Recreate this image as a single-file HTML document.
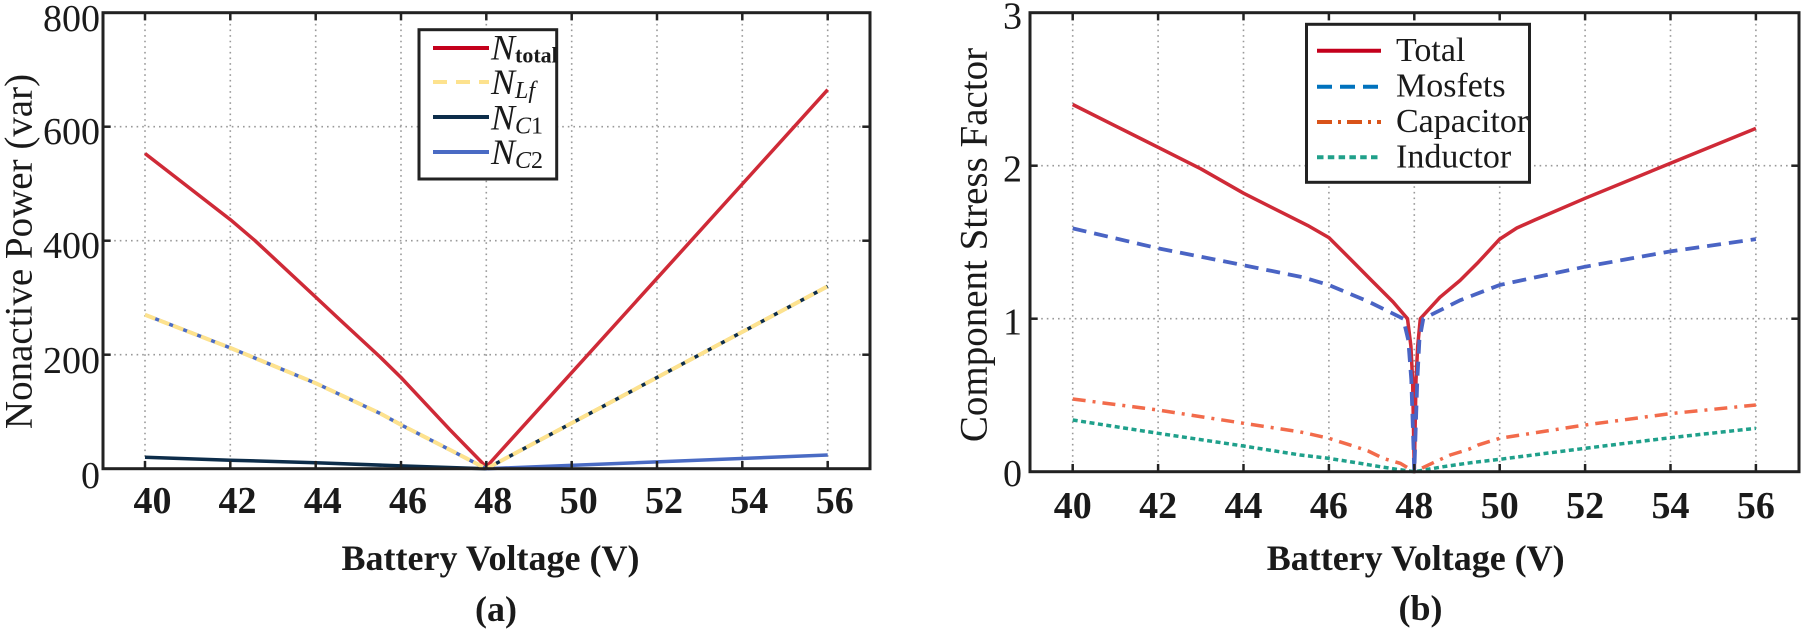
<!DOCTYPE html>
<html>
<head>
<meta charset="utf-8">
<style>
html,body{margin:0;padding:0;background:#fff;}
svg{display:block;}
text{font-family:"Liberation Serif","Times New Roman",serif;fill:#1a1a1a;}
</style>
</head>
<body>
<svg width="1803" height="633" viewBox="0 0 1803 633" xmlns="http://www.w3.org/2000/svg">
<rect x="0" y="0" width="1803" height="633" fill="#fff"/>

<!-- ================= LEFT CHART (a) ================= -->
<g stroke="#999" stroke-width="1.6" stroke-dasharray="1.6 4" fill="none">
  <line x1="145" y1="12.7" x2="145" y2="468.7"/>
  <line x1="230.3" y1="12.7" x2="230.3" y2="468.7"/>
  <line x1="315.7" y1="12.7" x2="315.7" y2="468.7"/>
  <line x1="401" y1="12.7" x2="401" y2="468.7"/>
  <line x1="486.3" y1="12.7" x2="486.3" y2="468.7"/>
  <line x1="571.7" y1="12.7" x2="571.7" y2="468.7"/>
  <line x1="657" y1="12.7" x2="657" y2="468.7"/>
  <line x1="742.3" y1="12.7" x2="742.3" y2="468.7"/>
  <line x1="827.7" y1="12.7" x2="827.7" y2="468.7"/>
  <line x1="103" y1="126.7" x2="870" y2="126.7"/>
  <line x1="103" y1="240.7" x2="870" y2="240.7"/>
  <line x1="103" y1="354.7" x2="870" y2="354.7"/>
</g>

<g fill="none" stroke-linejoin="round" stroke-linecap="butt">
  <!-- N_total -->
  <polyline stroke="#cf2a37" stroke-width="3.5" points="145,153.5 230.3,219.6 255.1,240.7 315.7,297.1 340,319.9 380.1,357 401,377.5 450.1,429.9 486.3,467 827.7,89.7"/>
  <!-- N_C1 -->
  <polyline stroke="#0d2d4a" stroke-width="3.5" points="145,457.3 230.3,460.2 315.7,462.7 401,465.9 486.3,468.7 827.7,286.3"/>
  <!-- N_C2 -->
  <polyline stroke="#4a6bc4" stroke-width="3.5" points="145,314.8 230.3,347.9 315.7,383.2 380.1,413.4 401,424.8 450.1,449.9 486.3,468.7 827.7,455"/>
  <!-- N_Lf -->
  <polyline stroke="#fde28e" stroke-width="4" stroke-dasharray="11 4" points="145,314.8 230.3,347.9 315.7,383.2 380.1,413.4 401,424.8 450.1,449.9 486.3,468.7 827.7,286.3"/>
</g>

<!-- frame & ticks -->
<g stroke="#222" stroke-width="3" fill="none">
  <rect x="103" y="12.7" width="767" height="456"/>
</g>
<g stroke="#222" stroke-width="2.5">
  <line x1="145" y1="468.7" x2="145" y2="461"/><line x1="230.3" y1="468.7" x2="230.3" y2="461"/>
  <line x1="315.7" y1="468.7" x2="315.7" y2="461"/><line x1="401" y1="468.7" x2="401" y2="461"/>
  <line x1="486.3" y1="468.7" x2="486.3" y2="461"/><line x1="571.7" y1="468.7" x2="571.7" y2="461"/>
  <line x1="657" y1="468.7" x2="657" y2="461"/><line x1="742.3" y1="468.7" x2="742.3" y2="461"/>
  <line x1="827.7" y1="468.7" x2="827.7" y2="461"/>
  <line x1="145" y1="12.7" x2="145" y2="20.4"/><line x1="230.3" y1="12.7" x2="230.3" y2="20.4"/>
  <line x1="315.7" y1="12.7" x2="315.7" y2="20.4"/><line x1="401" y1="12.7" x2="401" y2="20.4"/>
  <line x1="486.3" y1="12.7" x2="486.3" y2="20.4"/><line x1="571.7" y1="12.7" x2="571.7" y2="20.4"/>
  <line x1="657" y1="12.7" x2="657" y2="20.4"/><line x1="742.3" y1="12.7" x2="742.3" y2="20.4"/>
  <line x1="827.7" y1="12.7" x2="827.7" y2="20.4"/>
  <line x1="103" y1="126.7" x2="110.7" y2="126.7"/><line x1="103" y1="240.7" x2="110.7" y2="240.7"/>
  <line x1="103" y1="354.7" x2="110.7" y2="354.7"/>
  <line x1="870" y1="126.7" x2="862.3" y2="126.7"/><line x1="870" y1="240.7" x2="862.3" y2="240.7"/>
  <line x1="870" y1="354.7" x2="862.3" y2="354.7"/>
</g>

<!-- y tick labels -->
<g font-size="38" text-anchor="end">
  <text x="100" y="31">800</text>
  <text x="100" y="144">600</text>
  <text x="100" y="258">400</text>
  <text x="100" y="373">200</text>
  <text x="100" y="488">0</text>
</g>
<!-- x tick labels -->
<g font-size="38" font-weight="bold" text-anchor="middle">
  <text x="152.5" y="513">40</text>
  <text x="237.5" y="513">42</text>
  <text x="322.7" y="513">44</text>
  <text x="408" y="513">46</text>
  <text x="493.3" y="513">48</text>
  <text x="578.7" y="513">50</text>
  <text x="664" y="513">52</text>
  <text x="749.3" y="513">54</text>
  <text x="834.7" y="513">56</text>
</g>
<text transform="translate(31.5,251.5) rotate(-90)" font-size="39" text-anchor="middle">Nonactive Power (var)</text>
<text x="490.5" y="570" font-size="36" font-weight="bold" text-anchor="middle">Battery Voltage (V)</text>
<text x="496" y="621" font-size="36" font-weight="bold" text-anchor="middle">(a)</text>

<!-- left legend -->
<rect x="419" y="29.7" width="137.7" height="149.3" fill="#fff" stroke="#222" stroke-width="3"/>
<g stroke-width="4" fill="none">
  <line x1="433" y1="48" x2="489" y2="48" stroke="#c4001c"/>
  <line x1="433" y1="82" x2="489" y2="82" stroke="#fde28e" stroke-dasharray="14 9"/>
  <line x1="433" y1="117" x2="489" y2="117" stroke="#0d2d4a"/>
  <line x1="433" y1="152" x2="489" y2="152" stroke="#4a6bc4"/>
</g>
<g font-size="36" font-style="italic">
  <text x="491" y="59.5">N<tspan font-style="normal" font-weight="bold" font-size="22" dy="3">total</tspan></text>
  <text x="491" y="94">N<tspan font-size="24" dy="4">Lf</tspan></text>
  <text x="491" y="129.3">N<tspan font-size="24" dy="4">C</tspan><tspan font-style="normal" font-size="24">1</tspan></text>
  <text x="491" y="164">N<tspan font-size="24" dy="4">C</tspan><tspan font-style="normal" font-size="24">2</tspan></text>
</g>

<!-- ================= RIGHT CHART (b) ================= -->
<g stroke="#999" stroke-width="1.6" stroke-dasharray="1.6 4" fill="none">
  <line x1="1072.7" y1="12.7" x2="1072.7" y2="471.7"/>
  <line x1="1158.1" y1="12.7" x2="1158.1" y2="471.7"/>
  <line x1="1243.5" y1="12.7" x2="1243.5" y2="471.7"/>
  <line x1="1328.9" y1="12.7" x2="1328.9" y2="471.7"/>
  <line x1="1414.3" y1="12.7" x2="1414.3" y2="471.7"/>
  <line x1="1499.7" y1="12.7" x2="1499.7" y2="471.7"/>
  <line x1="1585.1" y1="12.7" x2="1585.1" y2="471.7"/>
  <line x1="1670.5" y1="12.7" x2="1670.5" y2="471.7"/>
  <line x1="1755.9" y1="12.7" x2="1755.9" y2="471.7"/>
  <line x1="1030" y1="165.7" x2="1799" y2="165.7"/>
  <line x1="1030" y1="318.7" x2="1799" y2="318.7"/>
</g>

<g fill="none" stroke-linejoin="round">
  <!-- Total -->
  <polyline stroke="#cf2a37" stroke-width="3.5" points="1072.7,104.5 1115.4,125.9 1158.1,147.3 1200.8,168.8 1243.5,193.2 1286.2,214.7 1307.6,225.4 1328.9,237.6 1350.3,259 1371.6,280.5 1393,301.9 1407.5,318.7 1410.9,346.2 1412.6,379.9 1414.3,471.7 1416,379.9 1417.7,346.2 1420.3,318.7 1439.9,297.3 1460,280.5 1478.4,262.1 1499.7,239.1 1516.8,228 1534.7,220 1585.1,198.3 1670.5,163.3 1755.9,128.4"/>
  <!-- Mosfets -->
  <polyline stroke="#4a64c4" stroke-width="3.8" stroke-dasharray="14 8" points="1072.7,228.4 1158.1,248.3 1243.5,265.2 1303.3,277.4 1328.9,285 1369.1,301.9 1403.2,318.7 1408.3,340.1 1411.3,379.9 1414.3,471.7 1417.3,379.9 1419.4,340.1 1423.3,318.7 1460,300.3 1499.7,285 1585.1,266.7 1670.5,251.4 1755.9,239.1"/>
  <!-- Inductor -->
  <polyline stroke="#1fa08b" stroke-width="3.5" stroke-dasharray="5 3.5" points="1072.7,420 1158.1,433.3 1243.5,446 1300.3,455 1328.9,458.4 1360.1,463.3 1373.3,465.6 1396.8,469.3 1414.3,471.7 1443.3,466.7 1473.2,462.4 1499.7,459.3 1585.1,448.3 1670.5,437.7 1755.9,428.3"/>
  <!-- Capacitor -->
  <polyline stroke="#f26b4b" stroke-width="3.5" stroke-dasharray="13 7 3 7" points="1072.7,399 1158.1,410 1243.5,423.3 1300.3,431.9 1328.9,438.3 1350.3,445.1 1368.2,451 1383.2,458.4 1400.2,463.3 1414.3,471.7 1435.2,461.8 1450.2,455 1468.5,449.4 1478.4,444.9 1499.7,438.3 1585.1,425 1670.5,413.6 1755.9,405"/>
</g>

<g stroke="#222" stroke-width="3" fill="none">
  <rect x="1030" y="12.7" width="769" height="459"/>
</g>
<g stroke="#222" stroke-width="2.5">
  <line x1="1072.7" y1="471.7" x2="1072.7" y2="464"/><line x1="1158.1" y1="471.7" x2="1158.1" y2="464"/>
  <line x1="1243.5" y1="471.7" x2="1243.5" y2="464"/><line x1="1328.9" y1="471.7" x2="1328.9" y2="464"/>
  <line x1="1414.3" y1="471.7" x2="1414.3" y2="464"/><line x1="1499.7" y1="471.7" x2="1499.7" y2="464"/>
  <line x1="1585.1" y1="471.7" x2="1585.1" y2="464"/><line x1="1670.5" y1="471.7" x2="1670.5" y2="464"/>
  <line x1="1755.9" y1="471.7" x2="1755.9" y2="464"/>
  <line x1="1072.7" y1="12.7" x2="1072.7" y2="20.4"/><line x1="1158.1" y1="12.7" x2="1158.1" y2="20.4"/>
  <line x1="1243.5" y1="12.7" x2="1243.5" y2="20.4"/><line x1="1328.9" y1="12.7" x2="1328.9" y2="20.4"/>
  <line x1="1414.3" y1="12.7" x2="1414.3" y2="20.4"/><line x1="1499.7" y1="12.7" x2="1499.7" y2="20.4"/>
  <line x1="1585.1" y1="12.7" x2="1585.1" y2="20.4"/><line x1="1670.5" y1="12.7" x2="1670.5" y2="20.4"/>
  <line x1="1755.9" y1="12.7" x2="1755.9" y2="20.4"/>
  <line x1="1030" y1="165.7" x2="1037.7" y2="165.7"/><line x1="1030" y1="318.7" x2="1037.7" y2="318.7"/>
  <line x1="1799" y1="165.7" x2="1791.3" y2="165.7"/><line x1="1799" y1="318.7" x2="1791.3" y2="318.7"/>
</g>

<g font-size="38" text-anchor="end">
  <text x="1022" y="28.5">3</text>
  <text x="1022" y="181.5">2</text>
  <text x="1022" y="334.5">1</text>
  <text x="1022" y="486">0</text>
</g>
<g font-size="38" font-weight="bold" text-anchor="middle">
  <text x="1072.7" y="518">40</text>
  <text x="1158.1" y="518">42</text>
  <text x="1243.5" y="518">44</text>
  <text x="1328.9" y="518">46</text>
  <text x="1414.3" y="518">48</text>
  <text x="1499.7" y="518">50</text>
  <text x="1585.1" y="518">52</text>
  <text x="1670.5" y="518">54</text>
  <text x="1755.9" y="518">56</text>
</g>
<text transform="translate(986.5,245) rotate(-90)" font-size="39" text-anchor="middle">Component Stress Factor</text>
<text x="1415.7" y="570" font-size="36" font-weight="bold" text-anchor="middle">Battery Voltage (V)</text>
<text x="1420.5" y="620" font-size="36" font-weight="bold" text-anchor="middle">(b)</text>

<!-- right legend -->
<rect x="1306.5" y="24.3" width="223" height="158" fill="#fff" stroke="#222" stroke-width="3"/>
<g stroke-width="4" fill="none">
  <line x1="1317" y1="50.7" x2="1381" y2="50.7" stroke="#c4001c"/>
  <line x1="1317" y1="86.7" x2="1381" y2="86.7" stroke="#0072bd" stroke-dasharray="15 8"/>
  <line x1="1317" y1="122" x2="1381" y2="122" stroke="#d95319" stroke-dasharray="15 6 3 6"/>
  <line x1="1317" y1="157.3" x2="1381" y2="157.3" stroke="#20a08a" stroke-dasharray="6.5 4.3"/>
</g>
<g font-size="34">
  <text x="1396" y="61">Total</text>
  <text x="1396" y="96.5">Mosfets</text>
  <text x="1396" y="132">Capacitor</text>
  <text x="1396" y="167.5">Inductor</text>
</g>
</svg>
</body>
</html>
